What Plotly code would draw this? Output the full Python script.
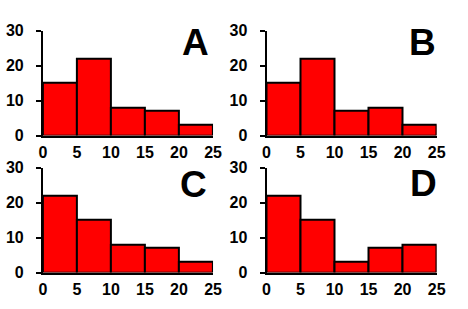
import plotly.graph_objects as go

W, H = 468, 309

bin_edges = [0, 5, 10, 15, 20, 25]
counts_A = [15, 22, 8, 7, 3]
counts_B = [15, 22, 7, 8, 3]
counts_C = [22, 15, 8, 7, 3]
counts_D = [22, 15, 3, 7, 8]
panel_labels = ["A", "B", "C", "D"]
x_ticks = [0, 5, 10, 15, 20, 25]
y_ticks = [0, 10, 20, 30]

centers = [(bin_edges[i] + bin_edges[i + 1]) / 2 for i in range(len(bin_edges) - 1)]
widths = [bin_edges[i + 1] - bin_edges[i] for i in range(len(bin_edges) - 1)]

# pixel layout of each panel: (x0, x1, ytop, ybottom)
panels = [
    (40, 215, 24, 135),
    (270, 445, 24, 135),
    (40, 215, 169, 280),
    (270, 445, 169, 280),
]
label_pos = [(197, 37), (430, 37), (195, 187), (431, 186)]
all_counts = [counts_A, counts_B, counts_C, counts_D]

fig = go.Figure()
font_fam = "Liberation Sans, Arial, sans-serif"

for i, (counts, (x0, x1, yt, yb)) in enumerate(zip(all_counts, panels)):
    n = "" if i == 0 else str(i + 1)
    fig.add_trace(go.Bar(
        x=centers, y=counts, width=widths,
        marker=dict(color="#FF0000", line=dict(color="black", width=2)),
        xaxis="x" + n, yaxis="y" + n, showlegend=False,
    ))
    fig.layout["xaxis" + n] = dict(
        domain=[x0 / W, x1 / W], range=[0, 25], anchor="y" + n,
        tickvals=x_ticks, ticks="", ticklen=0, showgrid=False, zeroline=False,
        showline=True, linecolor="black", linewidth=2,
        tickfont=dict(family=font_fam, size=16, color="black", weight="bold"),
        ticklabelstandoff=1,
    )
    fig.layout["yaxis" + n] = dict(
        domain=[1 - yb / H, 1 - yt / H], range=[0, 30], anchor="x" + n,
        tickvals=y_ticks, ticks="outside", ticklen=5, tickwidth=2, tickcolor="black",
        showgrid=False, zeroline=False,
        showline=True, linecolor="black", linewidth=2,
        tickfont=dict(family=font_fam, size=16, color="black", weight="bold"),
        ticklabelstandoff=9,
    )
    lx, ly = label_pos[i]
    fig.add_annotation(
        x=lx / W, y=1 - ly / H, xref="paper", yref="paper",
        text=panel_labels[i], showarrow=False,
        xanchor="center", yanchor="middle",
        font=dict(family=font_fam, size=37, color="black", weight="bold"),
    )

fig.update_layout(
    width=W, height=H, margin=dict(l=0, r=0, t=0, b=0),
    paper_bgcolor="white", plot_bgcolor="white", bargap=0,
)

fig.write_html("out.html")
